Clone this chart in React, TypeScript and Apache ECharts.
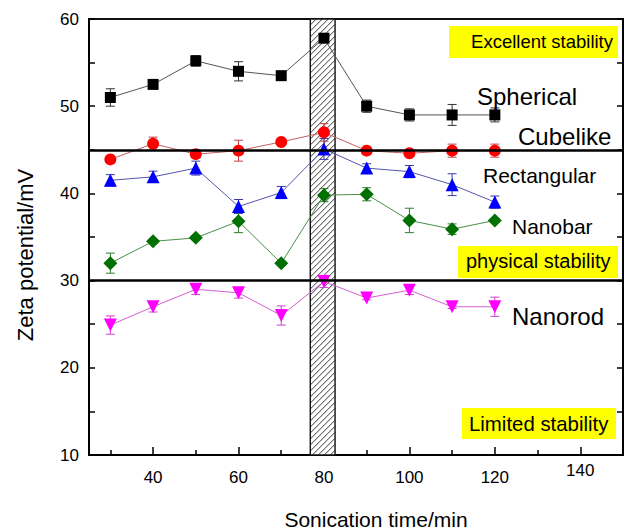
import React, { useEffect, useRef } from 'react';
import * as echarts from 'echarts';

const xs = [30, 40, 50, 60, 70, 80, 90, 100, 110, 120];
const spherical = [51.0, 52.5, 55.2, 54.0, 53.5, 57.8, 50.0, 49.0, 49.0, 49.0];
const sphericalErr = [1.0, 0.2, 0.6, 1.1, 0.2, 0.2, 0.7, 0.7, 1.2, 0.8];
const cubelike = [43.9, 45.7, 44.5, 44.9, 45.9, 47.0, 44.9, 44.6, 44.9, 44.9];
const cubelikeErr = [0.2, 0.75, 0.3, 1.2, 0.2, 1.0, 0.2, 0.3, 0.75, 0.75];
const rectangular = [41.5, 41.9, 42.9, 38.5, 40.1, 45.1, 42.9, 42.5, 41.0, 39.0];
const rectangularErr = [0.65, 0.65, 0.8, 0.8, 0.7, 1.2, 0.5, 0.7, 1.25, 0.7];
const nanobar = [32.0, 34.5, 34.9, 36.8, 32.0, 39.8, 39.9, 36.9, 35.9, 36.9];
const nanobarErr = [1.15, 0.2, 0.2, 1.3, 0.2, 0.75, 0.75, 1.4, 0.6, 0.2];
const nanorod = [24.9, 27.0, 29.0, 28.6, 26.0, 29.9, 28.0, 28.9, 27.0, 27.0];
const nanorodErr = [1.05, 0.6, 0.6, 0.6, 1.1, 0.7, 0.2, 0.5, 0.2, 1.1];

const xLabelValues = [40, 60, 80, 100, 120, 140];
const xMajorTicks = [40, 60, 80, 100, 120, 140];
const xMinorTicks = [30, 50, 70, 90, 110, 130];
const refLines = [45, 30];
const bandStart = 76.8;
const bandEnd = 82.6;
const X_MIN = 25, X_MAX = 150, Y_MIN = 10, Y_MAX = 60;

const FONT = '"Liberation Sans", Arial, Helvetica, sans-serif';

function errSeries(vals: number[], errs: number[], color: string) {
  return {
    type: 'custom',
    z: 3,
    silent: true,
    encode: { x: 0, y: [1, 2] },
    data: xs.map((x, i) => [x, vals[i] - errs[i], vals[i] + errs[i]]),
    renderItem: (params: any, api: any) => {
      const lo = api.coord([api.value(0), api.value(1)]);
      const hi = api.coord([api.value(0), api.value(2)]);
      const hw = 4.5;
      const st = { stroke: color, lineWidth: 1 };
      return {
        type: 'group',
        children: [
          { type: 'line', shape: { x1: lo[0], y1: lo[1], x2: hi[0], y2: hi[1] }, style: st },
          { type: 'line', shape: { x1: lo[0] - hw, y1: lo[1], x2: lo[0] + hw, y2: lo[1] }, style: st },
          { type: 'line', shape: { x1: hi[0] - hw, y1: hi[1], x2: hi[0] + hw, y2: hi[1] }, style: st },
        ],
      };
    },
  };
}

function lineSeries(name: string, vals: number[], color: string, lineColor: string, symbol: string, size: number, rotate = 0) {
  return {
    name,
    type: 'line',
    z: 4,
    data: xs.map((x, i) => [x, vals[i]]),
    symbol,
    symbolSize: size,
    symbolRotate: rotate,
    showSymbol: true,
    itemStyle: { color, borderWidth: 0 },
    lineStyle: { color: lineColor, width: 1 },
  };
}

const bandSeries = {
  type: 'custom',
  z: 1,
  silent: true,
  encode: { x: [0, 1] },
  data: [[bandStart, bandEnd]],
  renderItem: (params: any, api: any) => {
    const p0 = api.coord([api.value(0), Y_MAX]);
    const p1 = api.coord([api.value(1), Y_MIN]);
    const x0 = p0[0], y0 = p0[1], x1 = p1[0], y1 = p1[1];
    const step = 6;
    const children: any[] = [
      { type: 'rect', shape: { x: x0, y: y0, width: x1 - x0, height: y1 - y0 }, style: { fill: '#fff', stroke: null } },
    ];
    for (let c = x0 + y0 + step; c < x1 + y1; c += step) {
      const xa = Math.max(x0, c - y1);
      const xb = Math.min(x1, c - y0);
      if (xb <= xa) continue;
      children.push({
        type: 'line',
        shape: { x1: xa, y1: c - xa, x2: xb, y2: c - xb },
        style: { stroke: '#222', lineWidth: 0.9 },
      });
    }
    children.push({
      type: 'rect',
      shape: { x: x0, y: y0, width: x1 - x0, height: y1 - y0 },
      style: { fill: 'none', stroke: '#111', lineWidth: 1.4 },
    });
    return { type: 'group', children };
  },
};

function yellowBox(x: number, y: number, w: number, h: number) {
  return { type: 'rect', shape: { x, y, width: w, height: h }, style: { fill: '#ffff00' }, z: 10 };
}
function label(text: string, x: number, y: number, size: number, align = 'left') {
  return {
    type: 'text',
    x,
    y,
    z: 11,
    style: { text, font: `${size}px ${FONT}`, fill: '#000', textAlign: align, textVerticalAlign: 'middle' },
  };
}

export default function App() {
  const ref = useRef<HTMLDivElement>(null);
  useEffect(() => {
    const chart = echarts.init(ref.current!, null, { renderer: 'svg' });
    const axisLine = { show: true, lineStyle: { color: '#000', width: 2 } };
    const option: any = {
      animation: false,
      backgroundColor: '#fff',
      grid: { left: 89, top: 19, width: 534, height: 436, show: true, borderColor: '#111', borderWidth: 2, backgroundColor: 'transparent' },
      xAxis: [
        {
          type: 'value',
          min: X_MIN,
          max: X_MAX,
          position: 'bottom',
          axisLine,
          splitLine: { show: false },
          axisTick: { show: true, inside: true, length: 8, customValues: xMajorTicks, lineStyle: { color: '#000', width: 1.5 } },
          axisLabel: {
            customValues: xLabelValues,
            margin: 7,
            color: '#000',
            fontSize: 17,
            fontFamily: FONT,
            formatter: (v: number) => (v === 140 ? `{up|${v}}` : `{n|${v}}`),
            rich: {
              n: { fontSize: 17, fontFamily: FONT, color: '#000', padding: [7, 0, 0, 0] },
              up: { fontSize: 17, fontFamily: FONT, color: '#000' },
            },
          },
        },
        {
          type: 'value',
          min: X_MIN,
          max: X_MAX,
          position: 'bottom',
          axisLine: { show: false },
          splitLine: { show: false },
          axisTick: { show: true, inside: true, length: 5, customValues: xMinorTicks, lineStyle: { color: '#000', width: 1.5 } },
          axisLabel: { show: false },
        },
      ],
      yAxis: [
        {
          type: 'value',
          min: Y_MIN,
          max: Y_MAX,
          interval: 10,
          position: 'left',
          axisLine,
          splitLine: { show: false },
          axisTick: { show: true, inside: true, length: 6, lineStyle: { color: '#000', width: 1.5 } },
          minorTick: { show: true, splitNumber: 2, length: 6, lineStyle: { color: '#000', width: 1.5 } },
          minorSplitLine: { show: false },
          axisLabel: { margin: 10, color: '#000', fontSize: 17, fontFamily: FONT },
        },
        {
          type: 'value',
          min: Y_MIN,
          max: Y_MAX,
          interval: 10,
          position: 'right',
          axisLine,
          splitLine: { show: false },
          axisTick: { show: true, inside: true, length: 6, lineStyle: { color: '#000', width: 1.5 } },
          minorTick: { show: true, splitNumber: 2, length: 6, lineStyle: { color: '#000', width: 1.5 } },
          minorSplitLine: { show: false },
          axisLabel: { show: false },
        },
      ],
      series: [
        bandSeries,
        {
          type: 'line',
          z: 2,
          data: [],
          markLine: {
            silent: true,
            symbol: 'none',
            label: { show: false },
            lineStyle: { color: '#000', width: 2.5, type: 'solid' },
            data: refLines.map((v) => ({ yAxis: v })),
          },
        },
        errSeries(spherical, sphericalErr, '#333'),
        errSeries(cubelike, cubelikeErr, '#c04040'),
        errSeries(rectangular, rectangularErr, '#3a3aa8'),
        errSeries(nanobar, nanobarErr, '#2e7d2e'),
        errSeries(nanorod, nanorodErr, '#d040d0'),
        lineSeries('Spherical', spherical, '#000', '#555', 'rect', 11),
        lineSeries('Cubelike', cubelike, '#ff0000', '#c06060', 'circle', 12),
        lineSeries('Rectangular', rectangular, '#0000ff', '#5555b0', 'triangle', 13),
        lineSeries('Nanobar', nanobar, '#007000', '#4a8f4a', 'diamond', 14),
        lineSeries('Nanorod', nanorod, '#ff00ff', '#d060d0', 'triangle', 13, 180),
      ],
      graphic: [
        yellowBox(449, 26, 169, 32),
        label('Excellent stability', 613, 41, 18.5, 'right'),
        yellowBox(458, 246, 160, 32),
        label('physical stability', 466, 261, 20),
        yellowBox(462, 408, 154, 31),
        label('Limited stability', 469, 424, 20.4),
        label('Spherical', 477, 96, 24),
        label('Cubelike', 518, 136, 24),
        label('Rectangular', 483, 175, 21),
        label('Nanobar', 512, 226, 21),
        label('Nanorod', 512, 316, 24),
        {
          type: 'text',
          x: 25,
          y: 255,
          rotation: Math.PI / 2,
          z: 11,
          style: { text: 'Zeta potential/mV', font: `22px ${FONT}`, fill: '#000', textAlign: 'center', textVerticalAlign: 'middle' },
        },
        label('Sonication time/min', 376, 519, 21, 'center'),
      ],
    };
    chart.setOption(option);
    return () => chart.dispose();
  }, []);
  return <div ref={ref} style={{ position: 'absolute', left: 0, top: 0, width: 628, height: 529 }} />;
}
